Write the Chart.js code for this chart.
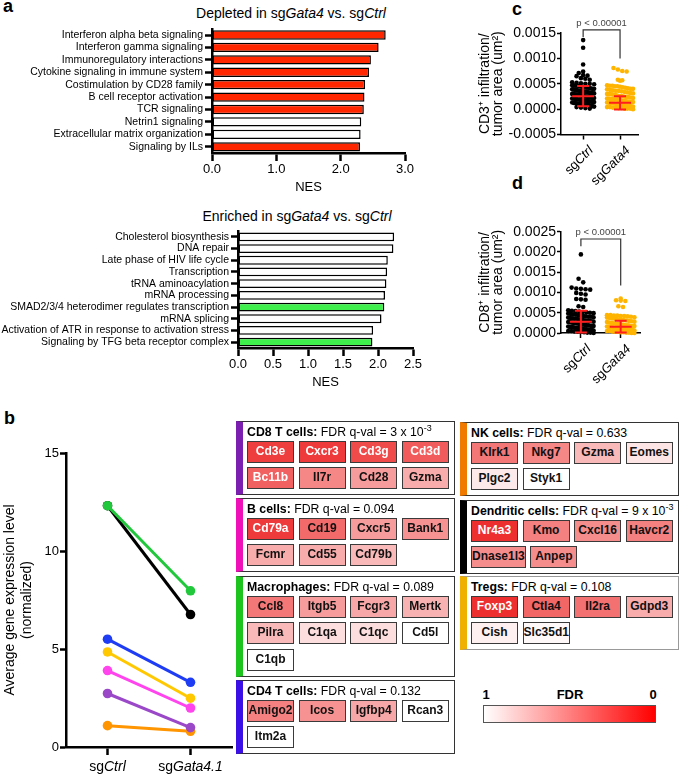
<!DOCTYPE html>
<html>
<head>
<meta charset="utf-8">
<script src="https://cdn.jsdelivr.net/npm/chart.js@4.4.1/dist/chart.umd.min.js"></script>
<style>
body { margin: 0; background: #fff; font-family: "Liberation Sans", Arial, sans-serif; }
#page { position: relative; width: 680px; height: 776px; overflow: hidden; }
canvas { position: absolute; }
.lbl { position: absolute; font-weight: bold; font-size: 18px; line-height: 18px; }
.ttl { position: absolute; font-size: 14px; white-space: nowrap; transform: translate(-50%, -50%); }
.grp { position: absolute; width: 219px; box-sizing: border-box; border: 1.5px solid #333; border-left-width: 7px; padding: 1.5px 3px 5px 4px; }
.head { font-size: 12.3px; height: 16px; line-height: 16px; white-space: nowrap; }
.head sup { font-size: 9px; line-height: 0; vertical-align: 5px; }
.genes { display: flex; flex-wrap: wrap; gap: 4.5px 4.6px; margin-top: 1px; }
.gene { min-width: 47px; height: 22px; box-sizing: border-box; border: 1.5px solid #3a3a3a; font-weight: bold; font-size: 12px; line-height: 19px; text-align: center; padding: 0; white-space: nowrap; }
.cb { position: absolute; font-weight: bold; font-size: 13px; transform: translate(-50%, -50%); }
</style>
</head>
<body>
<div id="page">
  <div class="lbl" style="left:3px;top:-3px">a</div>
  <div class="lbl" style="left:4px;top:409px">b</div>
  <div class="lbl" style="left:512px;top:0px">c</div>
  <div class="lbl" style="left:512px;top:174px">d</div>
  <div class="ttl" style="left:291px;top:13px">Depleted in sg<i>Gata4</i> vs. sg<i>Ctrl</i></div>
  <div class="ttl" style="left:297px;top:216px">Enriched in sg<i>Gata4</i> vs. sg<i>Ctrl</i></div>

  <canvas id="depleted" width="417" height="177" style="left:0;top:20px"></canvas>
  <canvas id="enriched" width="425" height="172" style="left:0;top:220px"></canvas>
  <canvas id="cd3" width="202" height="190" style="left:478px;top:0"></canvas>
  <canvas id="cd8" width="202" height="205" style="left:478px;top:185px"></canvas>
  <canvas id="expr" width="240" height="356" style="left:0;top:420px"></canvas>

  <div id="genePanel"></div>

  <div class="cb" style="left:486px;top:694px">1</div>
  <div class="cb" style="left:570px;top:694px">FDR</div>
  <div class="cb" style="left:653px;top:694px">0</div>
  <div style="position:absolute;left:483px;top:705px;width:173px;height:18px;box-sizing:border-box;border:1.5px solid #555;background:linear-gradient(to right,#fff,#ff0000)"></div>
</div>
<script>
// ---- panel a: GSEA pathways ----
const depletedPaths = ['Interferon alpha beta signaling', 'Interferon gamma signaling', 'Immunoregulatory interactions',
  'Cytokine signaling in immune system', 'Costimulation by CD28 family', 'B cell receptor activation',
  'TCR signaling', 'Netrin1 signaling', 'Extracellular matrix organization', 'Signaling by ILs']
const depletedNES = [2.70, 2.59, 2.47, 2.44, 2.38, 2.37, 2.36, 2.32, 2.31, 2.30]
const depletedHit = [1, 1, 1, 1, 1, 1, 1, 0, 0, 1]

const enrichedPaths = ['Cholesterol biosynthesis', 'DNA repair', 'Late phase of HIV life cycle', 'Transcription',
  'tRNA aminoacylation', 'mRNA processing', 'SMAD2/3/4 heterodimer regulates transcription', 'mRNA splicing',
  'Activation of ATR in response to activation stress', 'Signaling by TFG beta receptor complex']
const enrichedNES = [2.23, 2.22, 2.14, 2.13, 2.12, 2.10, 2.09, 2.05, 1.93, 1.92]
const enrichedHit = [0, 0, 0, 0, 0, 0, 1, 0, 0, 1]

// ---- panels c, d: infiltration per tumor area ----
const groupLabels = ['sg*Ctrl*', 'sg*Gata4*']
const cd3Ctrl = [0.00136, 0.00121, 0.00088, 0.00074, 0.00071, 0.00067, 0.00066, 0.00065, 0.00061, 0.0006, 0.00058,
  0.00053, 0.00052, 0.00051, 0.0005, 0.0005, 0.00049, 0.00047, 0.00047, 0.00046, 0.00046, 0.00045,
  0.00044, 0.00043, 0.00043, 0.00042, 0.00042, 0.00041, 0.0004, 0.0004, 0.00039, 0.00039, 0.00038, 0.00038, 0.00037,
  0.00036, 0.00036, 0.00035, 0.00035, 0.00034, 0.00034, 0.00033, 0.00033, 0.00032, 0.00032, 0.00031, 0.00031,
  0.0003, 0.0003, 0.00029, 0.00029, 0.00028, 0.00028, 0.00027, 0.00027, 0.00026, 0.00026, 0.00025, 0.00025,
  0.00024, 0.00024, 0.00023, 0.00023, 0.00022, 0.00022, 0.00021, 0.00021, 0.0002, 0.0002, 0.00019, 0.00019,
  0.00018, 0.00018, 0.00017, 0.00017, 0.00016, 0.00016, 0.00015, 0.00015, 0.00014, 0.00014, 0.00013,
  0.00012, 0.00012, 0.00011, 0.00011, 0.0001, 0.0001, 0.00009, 0.00008, 0.00008, 0.00007, 0.00006,
  0.00005, 0.00004, 0.00003, 0.00002, 0.00001]
const cd3Gata4 = [0.00081, 0.00078, 0.00075, 0.00074, 0.00058, 0.00057, 0.00056, 0.00047, 0.00046, 0.00046, 0.00045,
  0.00045, 0.00044, 0.00043, 0.00042, 0.00041, 0.0004, 0.0004, 0.00039, 0.00038, 0.00037, 0.00036, 0.00036, 0.00035,
  0.00034, 0.00033, 0.00032, 0.00031, 0.0003, 0.0003, 0.00029, 0.00028, 0.00027, 0.00026, 0.00026, 0.00025, 0.00024,
  0.00024, 0.00023, 0.00022, 0.00021, 0.00021, 0.0002, 0.0002, 0.00019, 0.00019, 0.00018, 0.00018, 0.00017,
  0.00016, 0.00016, 0.00015, 0.00015, 0.00014, 0.00014, 0.00013, 0.00013, 0.00012, 0.00012, 0.00011, 0.00011,
  0.0001, 0.0001, 0.00009, 0.00009, 0.00008, 0.00008, 0.00007, 0.00007, 0.00006, 0.00006, 0.00005, 0.00005,
  0.00004, 0.00004, 0.00003, 0.00003, 0.00002, 0.00002, 0.00001, 0.00001, 0.00001, 0]
const cd3Mean = [0.000255, 0.000125]
const cd3Sd = [0.0002, 0.000131]

const cd8Ctrl = [0.00194, 0.00134, 0.00125, 0.00112, 0.0011, 0.00109, 0.00108, 0.00107, 0.00099, 0.00097, 0.00095,
  0.00084, 0.00083, 0.00082, 0.00066, 0.00064, 0.00056, 0.00055, 0.00054, 0.00053, 0.00052, 0.00051, 0.0005,
  0.00049, 0.00048, 0.00047, 0.00046, 0.00045, 0.00044, 0.00043, 0.00042, 0.00041, 0.0004, 0.0004, 0.00039,
  0.00038, 0.00037, 0.00036, 0.00035, 0.00035, 0.00034, 0.00033, 0.00032, 0.00031, 0.0003, 0.0003, 0.00029,
  0.00028, 0.00027, 0.00027, 0.00026, 0.00025, 0.00024, 0.00024, 0.00023, 0.00022, 0.00021, 0.00021, 0.0002,
  0.00019, 0.00019, 0.00018, 0.00017, 0.00017, 0.00016, 0.00015, 0.00015, 0.00014, 0.00013, 0.00013, 0.00012,
  0.00011, 0.00011, 0.0001, 0.00009, 0.00009, 0.00008, 0.00007, 0.00007, 0.00006, 0.00005, 0.00005, 0.00004,
  0.00003, 0.00003, 0.00002, 0.00001, 0.00001, 0]
const cd8Gata4 = [0.00085, 0.00081, 0.0008, 0.00079, 0.00066, 0.00064, 0.00044, 0.00044, 0.00043, 0.00043, 0.00042,
  0.00042, 0.00041, 0.0004, 0.00039, 0.00038, 0.00037, 0.00036, 0.00035, 0.00034, 0.00033, 0.00032, 0.00031,
  0.0003, 0.00029, 0.00028, 0.00027, 0.00026, 0.00025, 0.00024, 0.00023, 0.00022, 0.00022, 0.00021, 0.0002,
  0.00019, 0.00019, 0.00018, 0.00017, 0.00017, 0.00016, 0.00015, 0.00015, 0.00014, 0.00013, 0.00013, 0.00012,
  0.00011, 0.00011, 0.0001, 0.00009, 0.00009, 0.00008, 0.00007, 0.00007, 0.00006, 0.00005, 0.00005, 0.00004,
  0.00003, 0.00003, 0.00002, 0.00002, 0.00001, 0.00001, 0, 0]
const cd8Mean = [0.00028, 0.000155]
const cd8Sd = [0.00027, 0.000145]
const pText = 'p < 0.00001'

// ---- panel b: average expression of cell-type signatures ----
const exprLabels = ['sg*Ctrl*', 'sg*Gata4.1*']
const exprMac = [12.31, 7.97]
const exprDC = [12.31, 6.76]
const exprCD4 = [5.50, 3.30]
const exprTreg = [4.85, 2.49]
const exprB = [3.90, 1.99]
const exprCD8 = [2.73, 0.99]
const exprNK = [1.09, 0.80]

// ---- gene boxes ----
const cellTypes = ['CD8 T cells', 'B cells', 'Macrophages', 'CD4 T cells', 'NK cells', 'Dendritic cells', 'Tregs']
const cellFdr = ['3 x 10^-3', '0.094', '0.089', '0.132', '0.633', '9 x 10^-3', '0.108']
const cellGenes = [
  ['Cd3e', 'Cxcr3', 'Cd3g', 'Cd3d', 'Bc11b', 'Il7r', 'Cd28', 'Gzma'],
  ['Cd79a', 'Cd19', 'Cxcr5', 'Bank1', 'Fcmr', 'Cd55', 'Cd79b'],
  ['Ccl8', 'Itgb5', 'Fcgr3', 'Mertk', 'Pilra', 'C1qa', 'C1qc', 'Cd5l', 'C1qb'],
  ['Amigo2', 'Icos', 'Igfbp4', 'Rcan3', 'Itm2a'],
  ['Klrk1', 'Nkg7', 'Gzma', 'Eomes', 'Plgc2', 'Styk1'],
  ['Nr4a3', 'Kmo', 'Cxcl16', 'Havcr2', 'Dnase1l3', 'Anpep'],
  ['Foxp3', 'Ctla4', 'Il2ra', 'Gdpd3', 'Cish', 'Slc35d1']
]
const geneFdr = [
  [0.12, 0.10, 0.18, 0.25, 0.28, 0.45, 0.55, 0.62],
  [0.10, 0.32, 0.55, 0.50, 0.62, 0.62, 0.68],
  [0.38, 0.55, 0.60, 0.65, 0.68, 0.85, 0.85, 1.0, 1.0],
  [0.42, 0.50, 0.60, 1.0, 1.0],
  [0.38, 0.45, 0.68, 0.88, 0.90, 1.0],
  [0.05, 0.42, 0.48, 0.42, 0.48, 0.48],
  [0.05, 0.30, 0.35, 0.62, 0.93, 0.97]
]

// layout / style of the gene boxes
const boxPos = [[236, 421], [236, 498], [236, 576], [236, 680], [460, 422], [460, 500], [460, 576]]
const boxBar = ['#7b1fb0', '#f010b8', '#1ec41e', '#3a10e6', '#f07a00', '#000000', '#f0b000']

Chart.defaults.font.family = '"Liberation Sans", Arial, sans-serif'
Chart.defaults.color = '#000'
Chart.defaults.animation = false
Chart.defaults.plugins.legend.display = false
Chart.defaults.plugins.tooltip.enabled = false

function fixW(w) {
  return function (s) { s.width = w; s.paddingTop = 0; s.paddingBottom = 0; s.paddingLeft = 0; s.paddingRight = 0 }
}
function fixH(h) {
  return function (s) { s.height = h; s.paddingTop = 0; s.paddingBottom = 0; s.paddingLeft = 0; s.paddingRight = 0 }
}

// text with *italic* parts
function drawParts(ctx, str, x, y, rot, align, size) {
  const parts = str.split('*')
  ctx.save()
  ctx.translate(x, y)
  ctx.rotate(rot)
  ctx.textBaseline = 'middle'
  ctx.textAlign = 'left'
  ctx.fillStyle = '#000'
  const fonts = parts.map((p, k) => (k % 2 ? 'italic ' : '') + size + 'px "Liberation Sans", Arial, sans-serif')
  let w = 0
  const ws = parts.map((p, k) => { ctx.font = fonts[k]; const m = ctx.measureText(p).width; w += m; return m })
  let cx = align === 'center' ? -w / 2 : align === 'right' ? -w : 0
  parts.forEach((p, k) => { ctx.font = fonts[k]; ctx.fillText(p, cx, 0); cx += ws[k] })
  ctx.restore()
}

const catLabels = {
  id: 'catLabels',
  afterDraw(chart, args, o) {
    const xs = chart.scales.x
    const b = chart.chartArea.bottom
    o.labels.forEach((lab, i) => {
      drawParts(chart.ctx, lab, xs.getPixelForValue(i) + o.dx, b + o.dy, o.rot, o.align, o.size)
    })
  }
}

const meanSd = {
  id: 'meanSd',
  afterDatasetsDraw(chart, args, o) {
    const ctx = chart.ctx
    const xs = chart.scales.x, ys = chart.scales.y
    ctx.save()
    ctx.strokeStyle = '#ff1e1e'
    ctx.lineWidth = 2
    o.means.forEach((m, i) => {
      const cx = xs.getPixelForValue(i)
      const ym = ys.getPixelForValue(m)
      const yt = ys.getPixelForValue(m + o.sds[i])
      const yb = ys.getPixelForValue(m - o.sds[i])
      ctx.beginPath()
      ctx.moveTo(cx - 11, ym); ctx.lineTo(cx + 11, ym)
      ctx.moveTo(cx, yt); ctx.lineTo(cx, yb)
      ctx.moveTo(cx - 6, yt); ctx.lineTo(cx + 6, yt)
      ctx.moveTo(cx - 6, yb); ctx.lineTo(cx + 6, yb)
      ctx.stroke()
    })
    // significance bracket
    const x0 = xs.getPixelForValue(0), x1 = xs.getPixelForValue(1)
    const yTop = ys.getPixelForValue(o.bracket[0])
    ctx.strokeStyle = '#333'
    ctx.lineWidth = 1.2
    ctx.beginPath()
    ctx.moveTo(x0, ys.getPixelForValue(o.bracket[1]))
    ctx.lineTo(x0, yTop)
    ctx.lineTo(x1, yTop)
    ctx.lineTo(x1, ys.getPixelForValue(o.bracket[2]))
    ctx.stroke()
    ctx.fillStyle = '#444'
    ctx.font = '9.5px "Liberation Sans", Arial, sans-serif'
    ctx.textAlign = 'center'
    ctx.textBaseline = 'middle'
    ctx.fillText(o.text, (x0 + x1) / 2, yTop - 7)
    ctx.restore()
  }
}

// beeswarm layout of the dots (rows of one dot height, spread side by side)
function swarm(values, idx, pxY, pxX, dot, maxW) {
  const bins = {}
  values.forEach(v => {
    const b = Math.round(v * pxY / dot)
    if (!bins[b]) bins[b] = []
    bins[b].push(v)
  })
  const pts = []
  Object.values(bins).forEach(list => {
    const n = list.length
    const w = Math.min((n - 1) * dot, maxW)
    list.forEach((v, k) => {
      const off = n === 1 ? 0 : -w / 2 + w * k / (n - 1)
      pts.push({ x: idx + off / pxX, y: v })
    })
  })
  return pts
}

function nesChart(id, labels, values, hits, color, yW, max, padTop) {
  new Chart(document.getElementById(id), {
    type: 'bar',
    data: {
      labels: labels,
      datasets: [{
        data: values,
        backgroundColor: hits.map(h => h ? color : '#fff'),
        borderColor: '#000',
        borderWidth: 1.5,
        borderSkipped: false,
        barPercentage: 0.75,
        categoryPercentage: 1
      }]
    },
    options: {
      indexAxis: 'y',
      responsive: false,
      layout: { padding: { top: padTop, right: 12, left: 0, bottom: 0 } },
      scales: {
        y: {
          grid: { drawOnChartArea: false, offset: false, tickLength: 7, tickWidth: 2.5, tickColor: '#000' },
          border: { color: '#000', width: 2.5 },
          ticks: { font: { size: 10.5 }, padding: 2, autoSkip: false, color: '#000' },
          afterFit: fixW(yW)
        },
        x: {
          min: 0,
          max: max,
          ticks: { stepSize: max === 3 ? 1 : 0.5, font: { size: 13 }, padding: 1, color: '#000', callback: v => v.toFixed(1) },
          grid: { drawOnChartArea: false, tickLength: 8, tickWidth: 2.5, tickColor: '#000' },
          border: { color: '#000', width: 2.5 },
          title: { display: true, text: 'NES', font: { size: 13 }, padding: { top: 0, bottom: 2 } },
          afterFit: fixH(44)
        }
      }
    }
  })
}

nesChart('depleted', depletedPaths, depletedNES, depletedHit, '#ff2600', 212, 3, 8.8)
nesChart('enriched', enrichedPaths, enrichedNES, enrichedHit, '#3ff04c', 238, 2.5, 11)

function dotChart(id, groups, means, sds, o) {
  const colors = ['#000000', '#ffb400']
  new Chart(document.getElementById(id), {
    type: 'scatter',
    data: {
      datasets: groups.map((vals, i) => ({
        data: swarm(vals, i, o.pxY, o.pxX, 4.4, o.widths[i]),
        backgroundColor: colors[i],
        pointRadius: 2.3,
        borderWidth: 0,
        clip: false
      }))
    },
    options: {
      responsive: false,
      layout: { padding: { top: o.padTop, right: o.padRight, left: 0, bottom: 0 } },
      scales: {
        x: {
          type: 'linear',
          min: o.xMin,
          max: 1.5,
          afterBuildTicks: s => { s.ticks = [{ value: 0 }, { value: 1 }] },
          ticks: { display: false },
          grid: { drawOnChartArea: false, tickLength: 5, tickWidth: 1.5, tickColor: '#000' },
          border: { color: '#000', width: 1.5 },
          afterFit: fixH(o.xH)
        },
        y: {
          min: o.yMin,
          max: o.yMax,
          ticks: {
            stepSize: 0.0005, font: { size: 14 }, padding: 1, color: '#000',
            callback: v => Math.abs(v) < 1e-9 ? '0.0000' : v.toFixed(4)
          },
          grid: { drawOnChartArea: false, tickLength: 4, tickWidth: 1.5, tickColor: '#000' },
          border: { color: '#000', width: 1.5 },
          title: { display: true, text: o.title, font: { size: 14, lineHeight: 0.96 }, padding: 0 },
          afterFit: fixW(83)
        }
      },
      plugins: {
        meanSd: { means: means, sds: sds, bracket: o.bracket, text: pText },
        catLabels: { labels: groupLabels, dx: 8, dy: 14, rot: -Math.PI / 4, align: 'right', size: 13 }
      }
    },
    plugins: [meanSd, catLabels]
  })
}

dotChart('cd3', [cd3Ctrl, cd3Gata4], cd3Mean, cd3Sd, {
  pxY: 50750, pxX: 37, widths: [22, 26], padTop: 33, padRight: 41.5, xMin: -0.6, xH: 55.5,
  yMin: -0.0005, yMax: 0.0015, title: ['CD3\u207A infiltration/', 'tumor area (um\u00B2)'],
  bracket: [0.00156, 0.00142, 0.001]
})
dotChart('cd8', [cd8Ctrl, cd8Gata4], cd8Mean, cd8Sd, {
  pxY: 40520, pxX: 37.7, widths: [24, 26], padTop: 46.7, padRight: 39.4, xMin: -0.5, xH: 57,
  yMin: 0, yMax: 0.0025, title: ['CD8\u207A infiltration/', 'tumor area (um\u00B2)'],
  bracket: [0.00232, 0.00214, 0.00117]
})

// panel b
const exprSeries = [
  [exprMac, '#22c83c'], [exprDC, '#000000'], [exprCD4, '#1f3cf5'], [exprTreg, '#ffc800'],
  [exprB, '#ff44ee'], [exprCD8, '#9a48c8'], [exprNK, '#ff9500']
]
new Chart(document.getElementById('expr'), {
  type: 'scatter',
  data: {
    datasets: exprSeries.map(([vals, col]) => ({
      data: vals.map((v, i) => ({ x: i, y: v })),
      showLine: true,
      borderColor: col,
      backgroundColor: col,
      borderWidth: 3,
      pointRadius: 4.8,
      pointBorderWidth: 0,
      clip: false
    }))
  },
  options: {
    responsive: false,
    layout: { padding: { top: 33, right: 8, left: 0, bottom: 0 } },
    scales: {
      x: {
        type: 'linear',
        min: -0.5,
        max: 1.5,
        afterBuildTicks: s => { s.ticks = [{ value: 0 }, { value: 1 }] },
        ticks: { display: false },
        grid: { drawOnChartArea: false, tickLength: 8, tickWidth: 2.5, tickColor: '#000' },
        border: { color: '#000', width: 2.5 },
        afterFit: fixH(29)
      },
      y: {
        min: 0,
        max: 15,
        ticks: { stepSize: 5, font: { size: 13 }, padding: 1, color: '#000' },
        grid: { drawOnChartArea: false, tickLength: 6, tickWidth: 2.5, tickColor: '#000' },
        border: { color: '#000', width: 2.5 },
        title: { display: true, text: ['Average gene expression level', '(normalized)'], font: { size: 14, lineHeight: 1.2 }, padding: { top: 1.6, bottom: 0 } },
        afterFit: fixW(66)
      }
    },
    plugins: {
      catLabels: { labels: exprLabels, dx: 0, dy: 20, rot: 0, align: 'center', size: 14 }
    }
  },
  plugins: [catLabels]
})

// gene boxes coloured by FDR (1 = white, 0 = red)
const panel = document.getElementById('genePanel')
cellTypes.forEach((name, g) => {
  const box = document.createElement('div')
  box.className = 'grp'
  box.style.left = boxPos[g][0] + 'px'
  box.style.top = boxPos[g][1] + 'px'
  box.style.borderLeftColor = boxBar[g]
  if (name === 'Tregs') { box.style.borderTopColor = box.style.borderRightColor = box.style.borderBottomColor = '#999' }
  const fdr = cellFdr[g].replace(/\^(\S+)/, '<sup>$1</sup>')
  let html = '<div class="head"><b>' + name + ':</b> FDR q-val = ' + fdr + '</div><div class="genes">'
  cellGenes[g].forEach((gene, k) => {
    const t = 1 - geneFdr[g][k]
    const r = Math.round(255 - 19 * t), gb = Math.round(255 - 219 * t)
    const fg = geneFdr[g][k] < 0.3 ? '#fff' : '#111'
    html += '<div class="gene" style="background:rgb(' + r + ',' + gb + ',' + gb + ');color:' + fg + '">' + gene + '</div>'
  })
  box.innerHTML = html + '</div>'
  panel.appendChild(box)
})
</script>
</body>
</html>
